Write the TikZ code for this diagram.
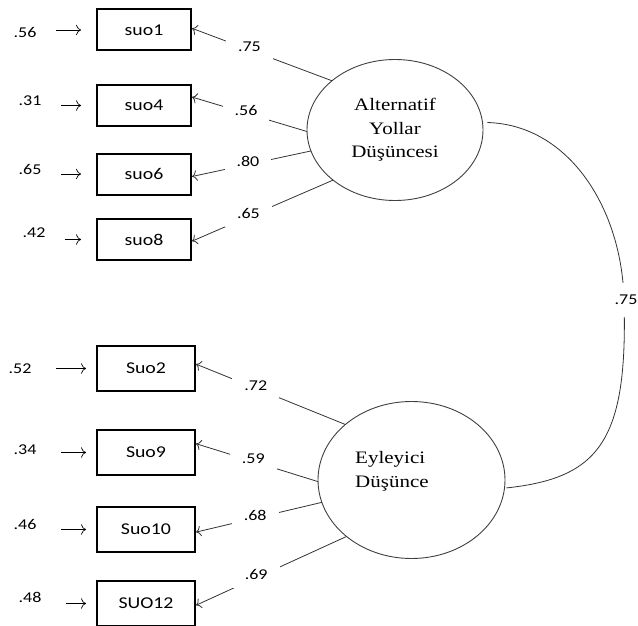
\documentclass[tikz,border=0pt]{standalone}
\usepackage{fontspec}
\setmainfont{Liberation Serif}
\newfontfamily\boxfont[FakeStretch=1.2]{Carlito}
\newfontfamily\latfont[FakeStretch=1.2]{Liberation Serif}
\usetikzlibrary{shapes.geometric,calc,arrows.meta}

\tikzset{
  item/.style={draw, line width=2pt, minimum width=94pt, minimum height=41pt, inner sep=0pt, font=\boxfont\fontsize{16.5}{18}\selectfont},
  itemb/.style={item, minimum width=98pt, minimum height=45pt},
  latent/.style={ellipse, draw=black!75, line width=0.9pt, inner sep=0pt, outer sep=0pt, font=\latfont\fontsize{17.5}{23.5}\selectfont, align=center},
  num/.style={font=\boxfont\fontsize{15}{17}\selectfont},
  load/.style={draw=black!80, line width=0.8pt, -{To[length=5pt]}},
  lbl/.style={num, fill=white, inner xsep=12pt, inner ysep=8pt, yshift=3pt},
  err/.style={-{To[length=5pt]}, line width=0.7pt, shorten <=16pt}
}

\begin{document}
\begin{tikzpicture}[x=1pt, y=-1pt]
  \useasboundingbox (0,0) rectangle (638,626);

  % observed items
  \node[item] (suo1) at (144,30) {suo1};
  \node[item] (suo4) at (144,105.5) {suo4};
  \node[item] (suo6) at (144,174) {suo6};
  \node[item] (suo8) at (144,239.5) {suo8};
  \node[itemb] (suo2) at (146,368.5) {Suo2};
  \node[itemb] (suo9) at (146,452.5) {Suo9};
  \node[itemb] (suo10) at (146,529.5) {Suo10};
  \node[itemb] (suo12) at (146,603.5) {SUO12};

  % error terms
  \foreach \n/\v/\x/\y in {suo1/.56/25/32, suo4/.31/30/101, suo6/.65/30/169, suo8/.42/34/233} {
    \node[num] (e\n) at (\x,\y) {\v};
    \draw[err, shorten >=15pt] (e\n.east |- \n) -- (\n.west); % arrow into item
  }
  \foreach \n/\v/\x/\y in {suo2/.52/20/369, suo9/.34/25/450, suo10/.46/25/524, suo12/.48/30/597} {
    \node[num] (e\n) at (\x,\y) {\v};
    \draw[err, shorten >=10pt, shorten <=21pt] (e\n.east |- \n) -- (\n.west);
  }

  % latent factors
  \node[latent, minimum width=176pt, minimum height=141pt] (F1) at (395,130) {Alternatif\\Yollar\\Düşüncesi};
  \node[latent, minimum width=187pt, minimum height=157pt] (F2) at (411.5,480) {};
  \node[font=\latfont\fontsize{17.5}{23.5}\selectfont, align=left, anchor=west, inner sep=0pt] (F2txt) at (355,471.5) {Eyleyici\\Düşünce};

  % loadings
  \draw[load] (F1.142) -- node[lbl, pos=0.59] {.75} (suo1.2);
  \draw[load] (F1.181) -- node[lbl, pos=0.53] {.56} (suo4.10);
  \draw[load] (F1.194) -- node[lbl, pos=0.53] {.80} (suo6.357);
  \draw[load] (F1.219) -- node[lbl, pos=0.60] {.65} (suo8.358);
  \draw[load] (F2.140) -- node[lbl, pos=0.60] {.72} (suo2.5);
  \draw[load] (F2.181) -- node[lbl, pos=0.53] {.59} (suo9.10);
  \draw[load] (F2.194) -- node[lbl, pos=0.53] {.68} (suo10.357);
  \draw[load] (F2.221) -- node[lbl, pos=0.60] {.69} (suo12.358);

  % factor correlation
  \draw[draw=black!80, line width=0.8pt, shorten <=5pt, shorten >=2pt]
    (F1.5) .. controls (570,125) and (622,210) .. (624,300)
    node[num, fill=white, xshift=2pt, inner xsep=2pt, inner ysep=12pt] (r12) {.75}
    .. controls (628,440) and (600,478) .. (F2.355);
\end{tikzpicture}
\end{document}
